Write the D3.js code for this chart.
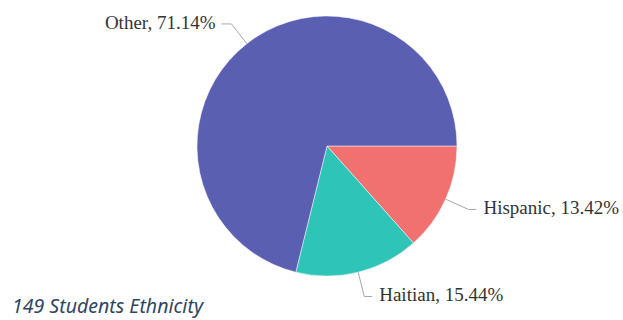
<!DOCTYPE html>
<html>
<head>
<meta charset="utf-8">
<script src="https://cdn.jsdelivr.net/npm/d3@7"></script>
<style>
  body { margin: 0; background: #fff; }
  svg { display: block; }
</style>
</head>
<body>
<svg id="chart" width="623" height="320"></svg>
<script>
var categories = ['Hispanic', 'Haitian', 'Other']
var values = [13.42, 15.44, 71.14]
var colors = ['#f0716f', '#2ec4b8', '#5b5fb2']
var title = '149 Students Ethnicity'

var width = 623
var height = 320
var cx = 327, cy = 146, radius = 130

var data = categories.map(function(c, i) {
  return { name: c, value: values[i], color: colors[i] }
})

var svg = d3.select('#chart')
var g = svg.append('g').attr('transform', 'translate(' + cx + ',' + cy + ')')

// start at 3 o'clock, clockwise
var pie = d3.pie()
  .sort(null)
  .value(function(d) { return d.value })
  .startAngle(Math.PI / 2)
  .endAngle(Math.PI / 2 + 2 * Math.PI)

var arcs = pie(data)

var arc = d3.arc().innerRadius(0).outerRadius(radius)

g.selectAll('path.slice')
  .data(arcs)
  .enter().append('path')
  .attr('class', 'slice')
  .attr('d', arc)
  .attr('fill', function(d) { return d.data.color })
  .attr('stroke', '#fff')
  .attr('stroke-width', 0.5)

// leader lines + labels
var edgeArc = d3.arc().innerRadius(radius).outerRadius(radius)
var outArc = d3.arc().innerRadius(radius + 25).outerRadius(radius + 25)

arcs.forEach(function(d) {
  var mid = (d.startAngle + d.endAngle) / 2
  var p0 = edgeArc.centroid(d)
  var p1 = outArc.centroid(d)
  var right = Math.sin(mid) > 0
  var p2 = [p1[0] + (right ? 8 : -10), p1[1]]

  g.append('polyline')
    .attr('points', [p0, p1, p2].map(function(p) { return p.join(',') }).join(' '))
    .attr('fill', 'none')
    .attr('stroke', '#a8a8a8')
    .attr('stroke-width', 1)

  g.append('text')
    .attr('x', p2[0] + (right ? 7 : -6))
    .attr('y', p2[1] + 5)
    .attr('text-anchor', right ? 'start' : 'end')
    .style('font-family', '"Liberation Serif", "Times New Roman", serif')
    .style('font-size', '19px')
    .attr('fill', '#333')
    .text(d.data.name + ', ' + d.data.value.toFixed(2) + '%')
})

svg.append('text')
  .attr('x', 12)
  .attr('y', 313)
  .attr('textLength', 191)
  .attr('lengthAdjust', 'spacingAndGlyphs')
  .style('font-family', '"Noto Sans", "Open Sans", sans-serif')
  .style('font-style', 'italic')
  .style('font-size', '20px')
  .attr('fill', '#2f4562')
  .text(title)
</script>
</body>
</html>
